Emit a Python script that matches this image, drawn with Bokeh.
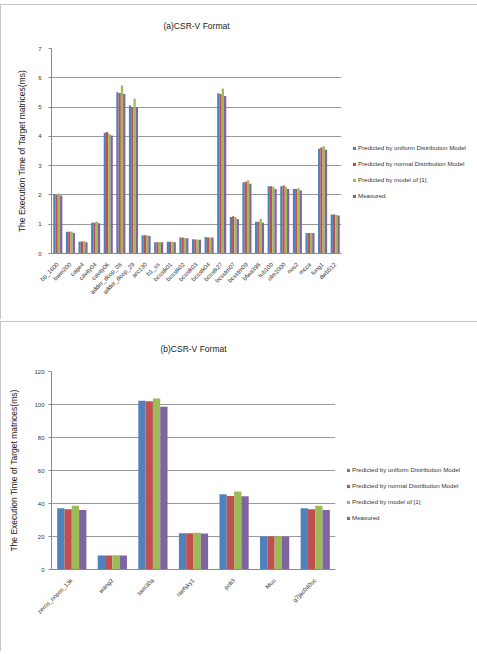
from math import pi
from bokeh.plotting import figure
from bokeh.models import (FactorRange, Range1d, Legend, LegendItem,
                          ColumnDataSource, FixedTicker, Title)
from bokeh.transform import dodge
from bokeh.layouts import column
from bokeh.embed import file_html
from bokeh.resources import INLINE

series = ["Predicted by uniform Distribution Model",
          "Predicted by normal Distribution Model",
          "Predicted by model of [1]",
          "Measured"]
colors = ["#4F81BD", "#C0504D", "#9BBB59", "#8064A2"]

# ---- panel (a) ----
cats_a = ["bp_1600", "bwm200", "cage4", "cavity04", "cavity06", "adder_dcop_08",
          "adder_dcop_29", "arc130", "b1_ss", "bcsstk01", "bcsstk02", "bcsstk03",
          "bcsstk04", "bcsstk27", "bcsstm07", "bcsstm09", "bfwa398", "tub100",
          "olm1000", "nos2", "mcca", "lung1", "dwb512"]
uniform_a = [2.02, 0.74, 0.40, 1.05, 4.12, 5.51, 5.05, 0.62, 0.38, 0.40, 0.55, 0.49,
             0.56, 5.47, 1.25, 2.43, 1.08, 2.30, 2.30, 2.20, 0.70, 3.58, 1.33]
normal_a = [2.00, 0.74, 0.41, 1.06, 4.15, 5.48, 5.00, 0.62, 0.38, 0.40, 0.55, 0.48,
            0.55, 5.45, 1.27, 2.45, 1.08, 2.30, 2.32, 2.20, 0.70, 3.62, 1.33]
model1_a = [2.05, 0.75, 0.42, 1.08, 4.08, 5.74, 5.28, 0.62, 0.39, 0.40, 0.53, 0.48,
            0.55, 5.63, 1.25, 2.50, 1.18, 2.28, 2.28, 2.23, 0.70, 3.66, 1.32]
measured_a = [1.98, 0.70, 0.38, 1.03, 4.03, 5.45, 5.00, 0.60, 0.38, 0.38, 0.52, 0.47,
              0.55, 5.38, 1.18, 2.38, 1.05, 2.20, 2.20, 2.15, 0.70, 3.54, 1.30]
yticks_a = [0, 1, 2, 3, 4, 5, 6, 7]

# ---- panel (b) ----
cats_b = ["zeros_nopss_13k", "wang2", "sam30a", "raefsky1", "poli3", "Muu", "g7jac040sc"]
uniform_b = [37.1, 8.5, 102.2, 22.0, 45.6, 20.0, 37.1]
normal_b = [36.5, 8.5, 102.0, 22.0, 44.6, 20.0, 36.5]
model1_b = [38.7, 8.7, 103.6, 22.2, 47.2, 20.2, 38.7]
measured_b = [36.0, 8.5, 98.6, 21.8, 44.4, 20.0, 36.0]
yticks_b = [0, 20, 40, 60, 80, 100, 120]

FONT = "Liberation Sans"
offsets = [-0.27, -0.09, 0.09, 0.27]


def panel(title, cats, vals, yticks, H, mtop, left, top, fw, fh, tick_standoff,
          label_standoff, spacer, leg_y):
    p = figure(x_range=FactorRange(*cats, range_padding=0),
               y_range=Range1d(yticks[0], yticks[-1]),
               width=477, height=H, frame_width=fw, frame_height=fh,
               min_border_left=left, min_border_top=top,
               min_border_right=477 - left - fw, min_border_bottom=H - top - fh,
               output_backend="svg", toolbar_location=None,
               margin=(mtop, 0, 0, 0),
               styles={"outline": "2px solid #b3b3b3", "outline-offset": "-2px"})
    p.title = Title(text=title, align="center", text_font=FONT, text_font_size="8.5px",
                    text_font_style="normal", text_color="#222222")
    p.add_layout(Title(text=" ", text_font_size="%dpx" % spacer, text_font=FONT), "above")
    src = ColumnDataSource(dict(cats=cats, s0=vals[0], s1=vals[1], s2=vals[2], s3=vals[3]))
    rends = []
    for i in range(4):
        r = p.vbar(x=dodge("cats", offsets[i], range=p.x_range), top="s%d" % i, width=0.18,
                   source=src, fill_color=colors[i], line_color=None)
        rends.append(r)
    p.background_fill_color = "white"
    p.border_fill_color = "white"
    p.outline_line_color = None
    p.xgrid.grid_line_color = None
    p.ygrid.grid_line_color = "#9a9a9a"
    p.ygrid.grid_line_width = 1
    p.yaxis.ticker = FixedTicker(ticks=yticks)
    p.yaxis.axis_label = "The Execution Time of Target matrices(ms)"
    p.yaxis.axis_label_text_font = FONT
    p.yaxis.axis_label_text_font_size = "8.5px"
    p.yaxis.axis_label_text_font_style = "normal"
    p.yaxis.axis_label_text_color = "#222222"
    p.yaxis.axis_label_standoff = label_standoff
    p.yaxis.major_label_text_font = FONT
    p.yaxis.major_label_text_font_size = "6px"
    p.yaxis.major_label_text_color = "#333333"
    p.yaxis.major_label_standoff = tick_standoff
    p.yaxis.axis_line_color = "#8a8a8a"
    p.yaxis.major_tick_line_color = "#8a8a8a"
    p.yaxis.major_tick_out = 3
    p.yaxis.major_tick_in = 0
    p.yaxis.minor_tick_line_color = None
    p.xaxis.axis_line_color = "#8a8a8a"
    p.xaxis.major_tick_line_color = None
    p.xaxis.minor_tick_line_color = None
    p.xaxis.major_label_orientation = pi / 4
    p.xaxis.major_label_text_font = FONT
    p.xaxis.major_label_text_font_size = "6px"
    p.xaxis.major_label_text_color = "#333333"
    p.xaxis.major_label_standoff = 4
    legend = Legend(items=[LegendItem(label=series[i], renderers=[rends[i]]) for i in range(4)],
                    location=(11, leg_y), orientation="vertical",
                    label_text_font=FONT, label_text_font_size="6.2px",
                    label_text_color="#333333",
                    glyph_width=4, glyph_height=4, label_height=7, label_standoff=2,
                    spacing=9, padding=0, margin=0, border_line_color=None,
                    background_fill_alpha=0)
    p.add_layout(legend, "right")
    return p


pa = panel("(a)CSR-V Format", cats_a, [uniform_a, normal_a, model1_a, measured_a], yticks_a,
           315, 4, 45, 44, 290, 205, 7, 8, 1, 54)
pb = panel("(b)CSR-V Format", cats_b, [uniform_b, normal_b, model1_b, measured_b], yticks_b,
           330, 2, 51, 50, 284, 198, 4, 12, 1, 48)

layout = column(pa, pb, spacing=0)
open("out.html", "w").write(file_html(layout, INLINE))
